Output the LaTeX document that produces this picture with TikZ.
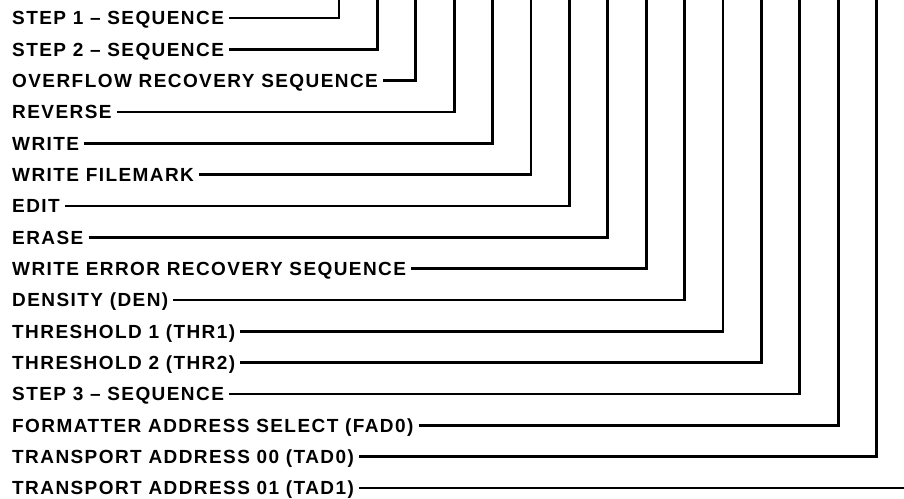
\documentclass[tikz,border=0pt]{standalone}
\usepackage{fontspec}
\setmainfont{Liberation Sans}
\usepackage{tikz}
\usetikzlibrary{positioning}
\tikzset{
  lbl/.style={anchor=west,inner sep=0pt,text height=13.5pt,text depth=0pt,
    font=\fontsize{19}{21}\selectfont\bfseries\addfontfeature{LetterSpace=7.5}},
  wire/.style={line width=2.8pt,line join=miter}
}

\begin{document}
\begin{tikzpicture}[x=1pt,y=1pt]
\useasboundingbox (0,0) rectangle (904,-498);
\foreach \t [count=\i] in {STEP 1 -- SEQUENCE,STEP 2 -- SEQUENCE,OVERFLOW RECOVERY SEQUENCE,
  REVERSE,WRITE,WRITE FILEMARK,EDIT,ERASE,WRITE ERROR RECOVERY SEQUENCE,DENSITY (DEN),
  THRESHOLD 1 (THR1),THRESHOLD 2 (THR2),STEP 3 -- SEQUENCE,FORMATTER ADDRESS SELECT (FAD0),
  TRANSPORT ADDRESS 00 (TAD0),TRANSPORT ADDRESS 01 (TAD1)}
  \node[lbl] (l\i) at (12,{-18-(\i-1)*31.33}) {\t};
\foreach \i in {1,...,15}{
  \coordinate (t\i) at ({339+(\i-1)*38.4},0);
  \draw[wire] ([xshift=5pt]l\i.east) -| (t\i);
}
\coordinate (t16) at (904,0);
\draw[wire] ([xshift=5pt]l16.east) -- (l16.east -| t16);
\end{tikzpicture}
\end{document}
